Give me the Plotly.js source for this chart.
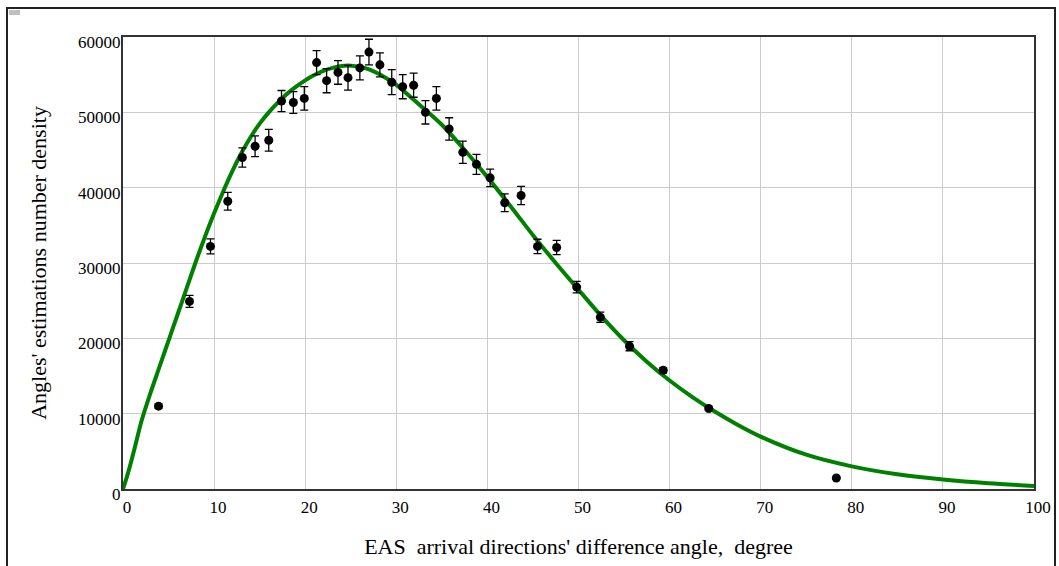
<!DOCTYPE html>
<html>
<head>
<meta charset="utf-8">
<script src="https://cdn.plot.ly/plotly-3.0.1.min.js"></script>
<style>
  html, body { margin: 0; padding: 0; background: #fff; }
  #wrap { position: relative; width: 1059px; height: 566px; overflow: hidden; }
  #frame { position: absolute; left: 6px; top: 7px; width: 1050px; height: 600px; border: 2px solid #222; box-sizing: border-box; pointer-events: none; z-index: 5; }
  #mark { position: absolute; left: 9px; top: 10px; width: 11px; height: 5px; background: #c0c0c0; z-index: 6; }
  #chart { position: absolute; left: 0; top: 0; width: 1059px; height: 566px; }
</style>
</head>
<body>
<div id="wrap">
  <div id="chart"></div>
  <div id="frame"></div>
  <div id="mark"></div>
</div>
<script>
// Measured data points (angle, degree)
const pointAngle = [3.9, 7.3, 9.6, 11.5, 13.1, 14.5, 16.0, 17.4, 18.7, 19.9, 21.25, 22.35, 23.6, 24.7, 26.0, 27.0, 28.2, 29.5, 30.7, 31.9, 33.2, 34.4, 35.8, 37.3, 38.8, 40.3, 41.9, 43.7, 45.5, 47.6, 49.8, 52.4, 55.6, 59.3, 64.3, 78.3];
// Number density of estimations
const pointDensity = [11000, 24900, 32200, 38200, 44000, 45500, 46300, 51500, 51300, 51850, 56600, 54200, 55300, 54600, 55900, 58000, 56300, 54000, 53400, 53600, 50000, 51850, 47800, 44700, 43100, 41300, 38000, 38960, 32200, 32060, 26800, 22800, 18950, 15760, 10680, 1460];
// Error bar half-heights
const pointError = [300, 800, 1000, 1170, 1280, 1370, 1440, 1400, 1440, 1550, 1600, 1600, 1570, 1640, 1600, 1700, 1600, 1660, 1600, 1600, 1550, 1550, 1480, 1480, 1330, 1170, 1170, 1200, 950, 950, 770, 690, 600, 350, 200, 100];

// Fitted curve
const curveAngle = [0, 0.5, 1, 1.5, 2, 3, 4, 5, 6, 7, 8, 9, 10, 11, 12, 13, 14, 15, 16, 17, 18, 19, 20, 21, 22, 23, 24, 25, 26, 27, 28, 29, 30, 32.5, 35, 37.5, 40, 42.5, 45, 47.5, 50, 52.5, 55, 57.5, 60, 62.5, 65, 67.5, 70, 75, 80, 85, 90, 95, 100];
const curveDensity = [0, 1900, 4100, 6500, 8900, 12700, 16200, 19700, 23200, 26700, 30200, 33500, 36600, 39500, 42200, 44600, 46700, 48500, 50000, 51300, 52450, 53400, 54250, 54950, 55500, 55900, 56150, 56200, 56050, 55700, 55150, 54450, 53650, 51050, 48350, 45000, 41400, 37600, 33700, 30000, 26450, 22950, 19750, 16900, 14400, 12200, 10250, 8500, 6950, 4550, 3000, 1950, 1250, 750, 400];

const xTicks = [0, 10, 20, 30, 40, 50, 60, 70, 80, 90, 100];
const yTicks = [0, 10000, 20000, 30000, 40000, 50000, 60000];

const xTitle = "EAS&nbsp;&nbsp;arrival directions' difference angle,&nbsp;&nbsp;degree";
const yTitle = "Angles' estimations number density";

const serif = "Liberation Serif";

const traces = [
  {
    x: curveAngle, y: curveDensity, type: 'scatter', mode: 'lines',
    line: { color: '#008000', width: 4, shape: 'spline', smoothing: 0.8 },
    hoverinfo: 'skip', showlegend: false
  },
  {
    x: pointAngle, y: pointDensity, type: 'scatter', mode: 'markers',
    marker: { color: '#000', size: 9 },
    error_y: { type: 'data', array: pointError, visible: true, color: '#000', thickness: 1.3, width: 4 },
    showlegend: false
  }
];

const layout = {
  width: 1059, height: 566,
  margin: { l: 123, r: 25, t: 37, b: 77, pad: 0 },
  paper_bgcolor: '#fff', plot_bgcolor: '#fff',
  font: { family: serif, color: '#000', size: 16 },
  showlegend: false,
  xaxis: {
    range: [0, 100], tickvals: xTicks, ticktext: xTicks.map(String),
    showgrid: true, gridcolor: '#cccccc', gridwidth: 1,
    showline: true, linecolor: '#333', linewidth: 2, mirror: true,
    zeroline: false, ticks: '', ticklabelshift: 4, ticklabelstandoff: 2,
    tickfont: { family: serif, size: 17, color: '#000' },
    title: { text: xTitle, font: { family: serif, size: 22, color: '#000' }, standoff: 22 }
  },
  yaxis: {
    range: [0, 60000], tickvals: yTicks, ticktext: yTicks.map(String),
    showgrid: true, gridcolor: '#cccccc', gridwidth: 1,
    showline: true, linecolor: '#333', linewidth: 2, mirror: true,
    zeroline: false, ticks: '', ticklabelshift: 5, ticklabelstandoff: -3,
    tickfont: { family: serif, size: 17, color: '#000' },
    title: { text: yTitle, font: { family: serif, size: 22, color: '#000' }, standoff: 25 }
  }
};

Plotly.newPlot('chart', traces, layout, { staticPlot: true, displayModeBar: false });
</script>
</body>
</html>
